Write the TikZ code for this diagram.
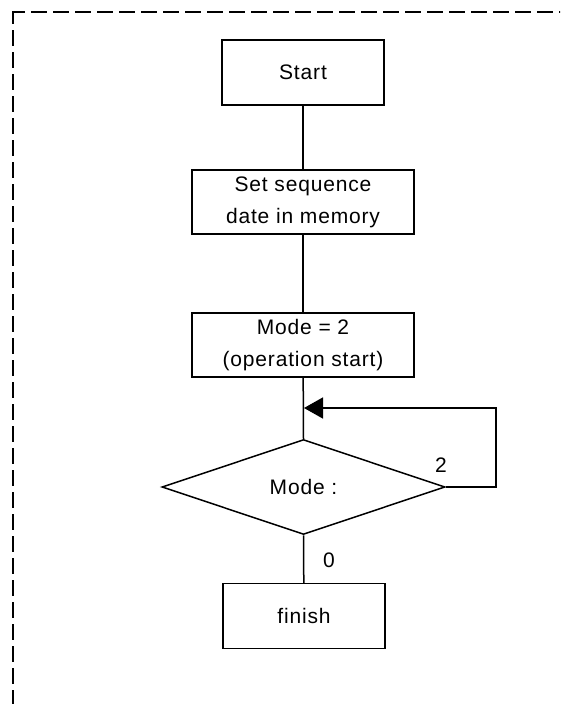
\documentclass[tikz,border=0pt]{standalone}
\usepackage{fontspec}
\setmainfont{Liberation Sans}[LetterSpace=4]
\usetikzlibrary{shapes.geometric,arrows.meta}

\begin{document}
\begin{tikzpicture}[x=1pt,y=-1pt,
  txt/.style={font=\fontsize{21}{32}\selectfont},
  box/.style={txt, draw, line width=1.5pt, inner sep=0pt, align=center,
    minimum width=162pt, minimum height=65pt},
  widebox/.style={box, minimum width=222pt, minimum height=64pt},
  decision/.style={txt, draw, diamond, line width=1.5pt, inner sep=0pt,
    aspect=2.98, minimum width=283pt, minimum height=95pt},
  flow/.style={line width=1.5pt},
  frame/.style={line width=2pt, dash pattern=on 16pt off 6pt, dash phase=3pt},
  lbl/.style={txt, inner sep=0pt}]

  \useasboundingbox (0,0) rectangle (560,704);
  \clip (0,0) rectangle (560,704);

  % dashed enclosing frame (top and left edges)
  \draw[frame] (12,12) -- (600,12);
  \draw[frame] (13,11) -- (13,740);

  % process steps
  \node[box]     (start)  at (303,72.5) {Start};
  \node[widebox] (setseq) at (303,202)  {Set sequence\\date in memory};
  \node[widebox] (mode2)  at (303,345)  {Mode = 2\\(operation start)};
  \node[decision] (mode)  at (303.5,487) {Mode :};
  \node[box]     (finish) at (304,616)  {finish};

  % connectors
  \draw[flow] (start) -- (setseq);
  \draw[flow] (setseq) -- (mode2);
  \draw[flow] (mode2) -- (mode.north);
  \draw[flow] (mode.south) -- (finish);

  % loop back while mode is 2
  \coordinate (looptop) at (496,408);
  \coordinate (loopin)  at (304,408);
  \draw[flow, -{Triangle[length=19pt,width=21pt]}]
    (mode.east) -| (looptop) -- (loopin);

  % branch labels
  \node[lbl] (two)  at (441,465) {2};
  \node[lbl] (zero) at (329,560) {0};
\end{tikzpicture}
\end{document}
